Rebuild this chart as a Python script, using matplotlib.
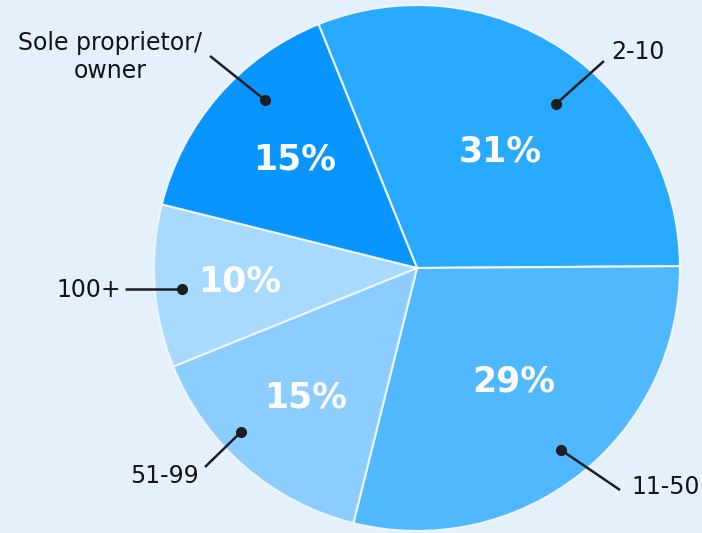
import matplotlib
matplotlib.use("Agg")
import matplotlib.pyplot as plt

# Company size breakdown
categories = ["2-10", "11-50", "51-99", "100+", "Sole proprietor/\nowner"]
shares = [31, 29, 15, 10, 15]
colors = ["#27AAFF", "#50B8FF", "#8CCDFF", "#A8D9FF", "#0895FF"]

W, H = 702, 533
BG = "#E5F0FD"
fig = plt.figure(figsize=(W / 100, H / 100), dpi=100, facecolor=BG)
ax = fig.add_axes([0, 0, 1, 1])
ax.set_facecolor(BG)

cx, cy, r = 417, H - 268, 263
ax.pie(shares, colors=colors, startangle=112, counterclock=False,
       center=(cx, cy), radius=r, frame=True,
       wedgeprops=dict(edgecolor="#EEF5FD", linewidth=1.5))
ax.set_xlim(0, W)
ax.set_ylim(0, H)
ax.set_aspect("equal")
ax.axis("off")

# percentage labels inside slices (pixel positions from top-left)
pct_pos = [(500, 152), (514, 382), (306, 397), (240, 282), (295, 160)]
for v, (x, y) in zip(shares, pct_pos):
    ax.text(x, H - y, f"{v}%", color="white", fontsize=25, fontweight="bold",
            family="DejaVu Sans", ha="center", va="center")

# leader lines: dot inside slice -> end of line, then label
leaders = [
    ((556, 104), (604, 61), (611, 52), "left"),
    ((561, 450), (620, 490), (631, 487), "left"),
    ((241, 432), (205, 467), (164, 476), "center"),
    ((182, 289), (125, 289), (121, 290), "right"),
    ((265, 100), (210, 56), (110, 57), "center"),
]
for (dot, end, txt, ha), label in zip(leaders, categories):
    ax.plot([dot[0], end[0]], [H - dot[1], H - end[1]], color="#1E1E22", lw=1.8,
            solid_capstyle="butt")
    ax.plot(dot[0], H - dot[1], "o", color="#1E1E22", ms=7)
    ax.text(txt[0], H - txt[1], label, color="#141414", fontsize=17,
            family="DejaVu Sans", ha=ha, va="center", linespacing=1.25)

fig.savefig("out.png", dpi=100, facecolor=BG)
